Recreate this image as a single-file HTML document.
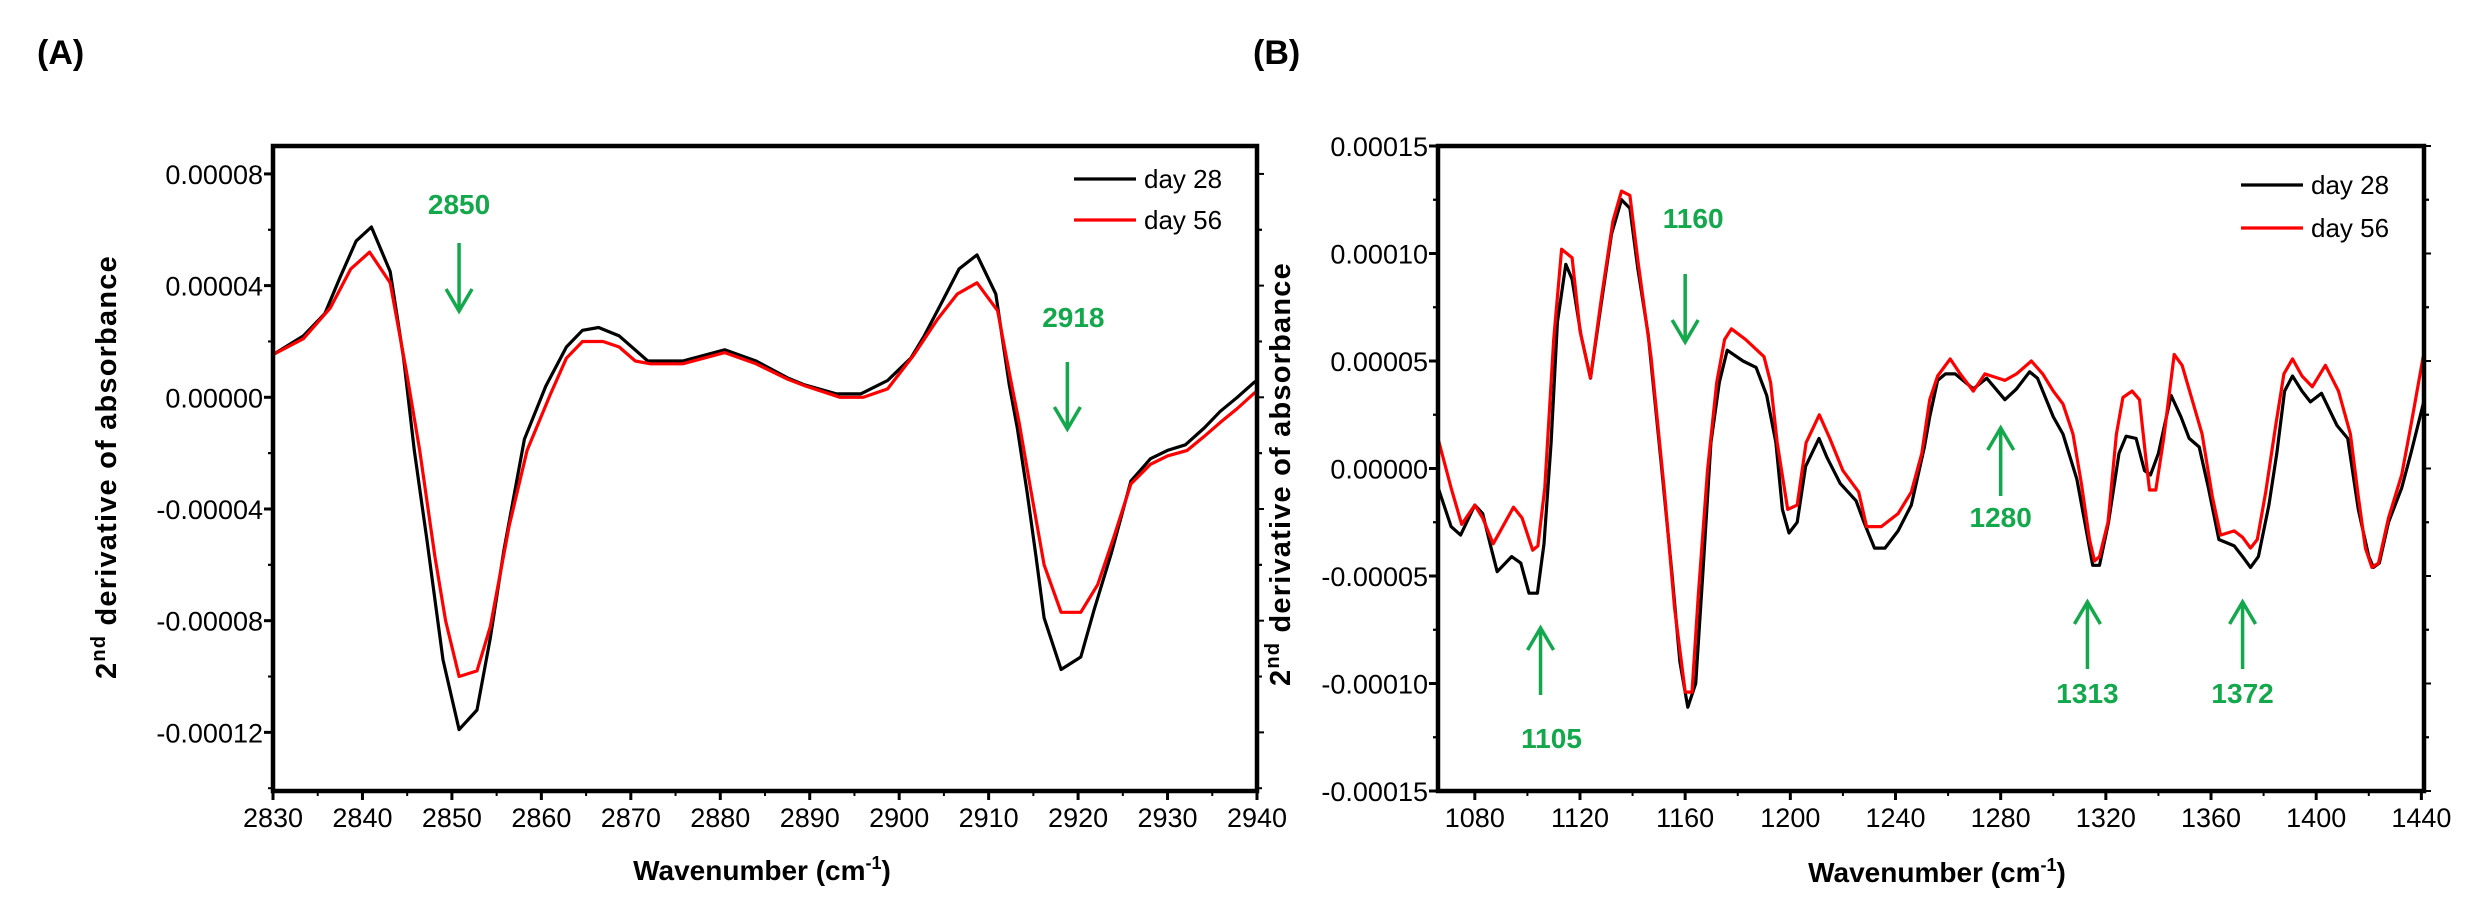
<!DOCTYPE html>
<html><head><meta charset="utf-8">
<style>
html,body{margin:0;padding:0;background:#fff;}
svg{display:block;font-family:"Liberation Sans",Arial,sans-serif;}
</style></head>
<body>
<svg id="fig" width="2477" height="912" viewBox="0 0 2477 912"></svg>
<script>
// ---------- Panel A data ----------
const aTicksX = [2830,2840,2850,2860,2870,2880,2890,2900,2910,2920,2930,2940];
const aTicksY = [0.00008,0.00004,0,-0.00004,-0.00008,-0.00012];
const aTickLabelsY = ["0.00008","0.00004","0.00000","-0.00004","-0.00008","-0.00012"];
const aWn28 = [2830,2833.4,2835.8,2837.5,2839.3,2841,2843.1,2844.6,2845.8,2847.2,2849,2850.8,2852.8,2854.3,2855.8,2858.1,2860.5,2862.8,2864.6,2866.4,2868.7,2871.9,2875.8,2880.5,2884,2887.5,2889.3,2893,2895.7,2898.7,2901.3,2902.8,2904.6,2906.7,2908.7,2910.8,2912.3,2913.2,2914.3,2915.3,2916.2,2918.1,2920.3,2921.8,2923.7,2925.9,2928.1,2930,2932,2934.1,2935.9,2937.8,2939.7,2940];
const aVal28 = [1.53,2.2,3.0,4.3,5.6,6.1,4.5,1.4,-1.9,-5.1,-9.4,-11.9,-11.2,-8.6,-5.5,-1.5,0.4,1.8,2.4,2.5,2.2,1.3,1.3,1.7,1.3,0.7,0.46,0.12,0.12,0.6,1.4,2.2,3.3,4.6,5.1,3.7,0.46,-1.1,-3.4,-5.7,-7.9,-9.75,-9.3,-7.6,-5.6,-3.0,-2.2,-1.9,-1.7,-1.1,-0.5,0,0.54,0.6];
const aWn56 = [2830,2833.4,2836.4,2838.7,2840.8,2843.1,2844.9,2846.4,2848.1,2849.3,2850.8,2852.8,2854.3,2856.4,2858.4,2861,2862.8,2864.6,2866.9,2868.7,2870.5,2872.2,2875.8,2880.5,2884,2887.5,2889.3,2893.4,2896,2898.7,2901.6,2904.3,2906.5,2908.7,2911,2912.3,2913.4,2914.7,2916.2,2918.1,2920.3,2922.2,2924,2925.9,2928.1,2930,2932.2,2934.1,2935.9,2937.8,2939.7,2940];
const aVal56 = [1.53,2.1,3.2,4.6,5.2,4.1,0.95,-1.9,-5.7,-8.0,-10.0,-9.8,-8.2,-4.6,-1.9,0.1,1.4,2.0,2.0,1.8,1.3,1.2,1.2,1.6,1.2,0.65,0.43,0,0,0.3,1.5,2.8,3.7,4.1,3.1,0.9,-0.9,-3.3,-6.0,-7.7,-7.7,-6.7,-5.0,-3.1,-2.4,-2.1,-1.9,-1.4,-0.9,-0.4,0.15,0.2];
const aMarks = [{wn:2850,label:"2850",dir:"down"},{wn:2918,label:"2918",dir:"down"}];

// ---------- Panel B data ----------
const bTicksX = [1080,1120,1160,1200,1240,1280,1320,1360,1400,1440];
const bTicksY = [0.00015,0.0001,0.00005,0,-0.00005,-0.0001,-0.00015];
const bTickLabelsY = ["0.00015","0.00010","0.00005","0.00000","-0.00005","-0.00010","-0.00015"];
const bWn28 = [1066,1071,1074.6,1080,1083,1086,1088.5,1094,1097.5,1100.6,1103.8,1106.3,1109,1111.4,1114.6,1117,1120.4,1124,1128,1132,1135.8,1139,1142,1146,1151,1155,1158,1161,1164,1166.7,1169.8,1173,1176,1182,1187,1191,1194.5,1197,1199.5,1202.6,1205.8,1210.9,1214,1219,1225,1228,1232,1236,1241,1246,1251,1253,1256,1259,1262.7,1269.6,1274.7,1281.6,1286,1291,1294,1300,1303.7,1309,1312.6,1315,1317.6,1321,1325,1327.7,1331.5,1334.7,1337,1340,1344.8,1348.6,1351.7,1355.5,1359,1363,1368.8,1372,1375,1378,1382,1385,1388,1391,1394.6,1397.8,1402,1407.9,1412,1416,1420,1421.8,1424,1427.5,1432.5,1436,1440.7,1441];
const bVal28 = [-0.87,-2.7,-3.1,-1.7,-2.1,-3.6,-4.8,-4.1,-4.4,-5.8,-5.8,-3.5,1.2,6.8,9.5,8.8,6.2,4.2,7.6,10.9,12.5,12.1,9.3,6.2,0.1,-4.9,-9.0,-11.1,-10.0,-4.9,1.2,4.0,5.5,5.0,4.7,3.4,1.2,-1.9,-3.0,-2.5,0.1,1.4,0.5,-0.7,-1.5,-2.5,-3.7,-3.7,-2.9,-1.7,1.0,2.4,4.1,4.4,4.4,3.7,4.2,3.2,3.7,4.5,4.2,2.4,1.6,-0.5,-2.9,-4.5,-4.5,-2.5,0.7,1.5,1.4,-0.1,-0.3,0.7,3.4,2.4,1.4,1.0,-0.9,-3.3,-3.6,-4.1,-4.6,-4.1,-1.7,0.7,3.6,4.3,3.6,3.1,3.5,2.0,1.4,-1.9,-4.1,-4.6,-4.4,-2.5,-0.9,0.7,3.0,3.2];
const bWn56 = [1066,1071,1075,1080,1083,1087,1094.7,1098,1102,1104,1106.6,1110,1113,1117,1120,1124,1128,1132.5,1135.8,1139,1142,1147,1152,1156,1160,1162.6,1165,1168.5,1172,1175,1177.6,1183,1190,1192.5,1195,1199,1202.6,1206,1211,1215,1220,1226,1229,1234.6,1241,1246,1250,1253,1256,1260.8,1264.6,1269.6,1274,1281.6,1286,1291.7,1296,1300,1303.7,1307.5,1310.7,1313.8,1315.7,1317.6,1320.8,1324,1326.5,1330,1332.8,1335,1336.6,1339,1342,1346,1349,1352.8,1356.6,1360.5,1363.6,1368.8,1372,1375,1377.6,1380.8,1384.6,1387.7,1391,1394.6,1398.5,1403.5,1408.5,1413,1416,1418.7,1421.2,1423.7,1427.5,1432.5,1436,1440.7,1441];
const bVal56 = [1.4,-0.9,-2.6,-1.7,-2.3,-3.5,-1.8,-2.3,-3.8,-3.6,-0.9,6.0,10.2,9.8,6.4,4.2,7.8,11.5,12.9,12.7,9.7,5.2,-0.9,-6.5,-10.4,-10.4,-5.9,-0.1,4.0,6.0,6.5,6.0,5.2,4.0,1.2,-1.9,-1.7,1.2,2.5,1.4,-0.1,-1.1,-2.7,-2.7,-2.1,-1.1,0.7,3.2,4.3,5.1,4.4,3.6,4.4,4.1,4.4,5.0,4.4,3.6,3.0,1.6,-0.7,-3.3,-4.3,-4.1,-2.5,1.6,3.3,3.6,3.2,0.7,-1.0,-1.0,1.4,5.3,4.8,3.2,1.6,-1.3,-3.1,-2.9,-3.2,-3.7,-3.3,-1.1,2.0,4.4,5.1,4.3,3.8,4.8,3.6,1.6,-1.3,-3.7,-4.6,-4.4,-2.3,-0.3,2.0,5.2,5.3];
const bMarks = [{wn:1105,label:"1105",dir:"up"},{wn:1160,label:"1160",dir:"down"},{wn:1280,label:"1280",dir:"up"},{wn:1313,label:"1313",dir:"up"},{wn:1372,label:"1372",dir:"up"}];

const NS="http://www.w3.org/2000/svg";
const svg=document.getElementById('fig');
function mk(tag,attrs,parent){const e=document.createElementNS(NS,tag);for(const k in attrs)e.setAttribute(k,attrs[k]);(parent||svg).appendChild(e);return e;}
const GREEN="#13a84c";

function panel(cfg){
  const g=mk('g',{});
  
  
  const L=cfg.L,R=cfg.R,T=cfg.T,B=cfg.B;
  const xs=v=>L+(v-cfg.x0)/(cfg.x1-cfg.x0)*(R-L);
  const ys=v=>T+(cfg.y1-v)/(cfg.y1-cfg.y0)*(B-T);
  // ticks
  cfg.ticksX.forEach((t,i)=>{
    const x=xs(t);
    const tk=mk('line',{x1:x,x2:x,y1:B,y2:B+9,stroke:'#000','stroke-width':3},g);
    
    
    const lb=mk('text',{x:x,y:B+36,'text-anchor':'middle','font-size':27,fill:'#000'},g);
    lb.textContent=t;
    
    
    if(i<cfg.ticksX.length-1){const xm=xs((t+cfg.ticksX[i+1])/2);mk('line',{x1:xm,x2:xm,y1:B,y2:B+5,stroke:'#000','stroke-width':2},g);}
  });
  cfg.ticksY.forEach((t,i)=>{
    const y=ys(t);
    const tk=mk('line',{x1:L-9,x2:L,y1:y,y2:y,stroke:'#000','stroke-width':3},g);
    
    
    mk('line',{x1:R,x2:R+7,y1:y,y2:y,stroke:'#000','stroke-width':2},g);
    const lb=mk('text',{x:L-10,y:y+10,'text-anchor':'end','font-size':27,fill:'#000'},g);
    lb.textContent=cfg.tickLabelsY[i];
    
    
    const step=cfg.ticksY[0]-cfg.ticksY[1];
    [t-step/2,t+step/2].forEach(m=>{if(m>cfg.y0&&m<cfg.y1){const ym=ys(m);mk('line',{x1:L-5,x2:L,y1:ym,y2:ym,stroke:'#000','stroke-width':2},g);mk('line',{x1:R,x2:R+5,y1:ym,y2:ym,stroke:'#000','stroke-width':2},g);}});
  });
  // series
  const cp=mk('clipPath',{id:cfg.name+'-clip'},g);mk('rect',{x:L,y:T,width:R-L,height:B-T},cp);
  const ser=(wn,val,col,nm)=>{
    const pts=wn.map((w,i)=>xs(w).toFixed(1)+','+ys(val[i]*1e-5).toFixed(1)).join(' ');
    const p=mk('polyline',{points:pts,fill:'none',stroke:col,'stroke-width':3.2,'stroke-linejoin':'round','clip-path':'url(#'+cfg.name+'-clip)'},g);
    
    
  };
  ser(cfg.wn28,cfg.v28,'#000','series-day-28');
  ser(cfg.wn56,cfg.v56,'#ff0000','series-day-56');
  // frame
  const fr=mk('rect',{x:L,y:T,width:R-L,height:B-T,fill:'none',stroke:'#000','stroke-width':4.5},g);
  
  
  // legend
  const lg=mk('g',{},g);
  
  
  [['day 28','#000',cfg.legY[0]],['day 56','#ff0000',cfg.legY[1]]].forEach(([t,c,y])=>{
    const e=mk('g',{},lg);
    
    
    mk('line',{x1:R-183,x2:R-121,y1:y,y2:y,stroke:c,'stroke-width':3.2},e);
    const tx=mk('text',{x:R-113,y:y+9,'font-size':26,fill:'#000'},e);tx.textContent=t;
  });
  // annotations
  cfg.marks.forEach(m=>{
    const a=mk('g',{},g);
    
    
    const x=xs(m.wn+cfg.markOff);
    const o=cfg.markPos[m.label];
    mk('line',{x1:x,x2:x,y1:o.a0,y2:o.a1,stroke:GREEN,'stroke-width':3.5},a);
    const tipY=m.dir==='down'?o.a1:o.a0, s=m.dir==='down'?-1:1;
    mk('polyline',{points:(x-13)+','+(tipY+s*22)+' '+x+','+tipY+' '+(x+13)+','+(tipY+s*22),fill:'none',stroke:GREEN,'stroke-width':3.5},a);
    const t=mk('text',{x:x+o.dx,y:o.ty+10,'text-anchor':'middle','font-size':28,'font-weight':'bold',fill:GREEN},a);
    t.textContent=m.label;
  });
  // axis titles
  const xt=mk('text',{x:cfg.xtX,y:cfg.xtY,'text-anchor':'middle','font-size':28,'font-weight':'bold',fill:'#000'},g);
  xt.innerHTML='Wavenumber (cm<tspan dy="-11" font-size="18">-1</tspan><tspan dy="11">)</tspan>';
  
  
  const yt=mk('text',{transform:'translate('+cfg.ytX+','+cfg.ytY+') rotate(-90)','text-anchor':'middle','font-size':29,'font-weight':'bold','letter-spacing':'1.2',fill:'#000'},g);
  yt.innerHTML='2<tspan dy="-11" font-size="20">nd</tspan><tspan dy="11"> derivative of absorbance</tspan>';
  
  
  const pl=mk('text',{x:cfg.plX,y:64,'font-size':34,'font-weight':'bold',fill:'#000'},g);
  pl.textContent=cfg.panelLabel;
  
  
}

panel({name:'panel-a',L:273,R:1257,T:146,B:791,x0:2830,x1:2940,y0:-0.000141,y1:0.00009,
  ticksX:aTicksX,ticksY:aTicksY,tickLabelsY:aTickLabelsY,wn28:aWn28,v28:aVal28,wn56:aWn56,v56:aVal56,
  legY:[179,220],marks:aMarks,markOff:0.8,
  markPos:{"2850":{a0:243,a1:311,ty:204,dx:0},"2918":{a0:362,a1:429,ty:317,dx:6}},
  xtX:762,xtY:880,ytX:116,ytY:467,plX:37,panelLabel:'(A)'});
panel({name:'panel-b',L:1438,R:2424,T:146,B:791,x0:1066,x1:1441,y0:-0.00015,y1:0.00015,
  ticksX:bTicksX,ticksY:bTicksY,tickLabelsY:bTickLabelsY,wn28:bWn28,v28:bVal28,wn56:bWn56,v56:bVal56,
  legY:[185,228],marks:bMarks,markOff:0,
  markPos:{"1105":{a0:628,a1:695,ty:738,dx:11},"1160":{a0:274,a1:342,ty:218,dx:8},"1280":{a0:428,a1:496,ty:517,dx:0},"1313":{a0:602,a1:669,ty:693,dx:0},"1372":{a0:602,a1:669,ty:693,dx:0}},
  xtX:1937,xtY:882,ytX:1290,ytY:474,plX:1253,panelLabel:'(B)'});
</script>
</body></html>
